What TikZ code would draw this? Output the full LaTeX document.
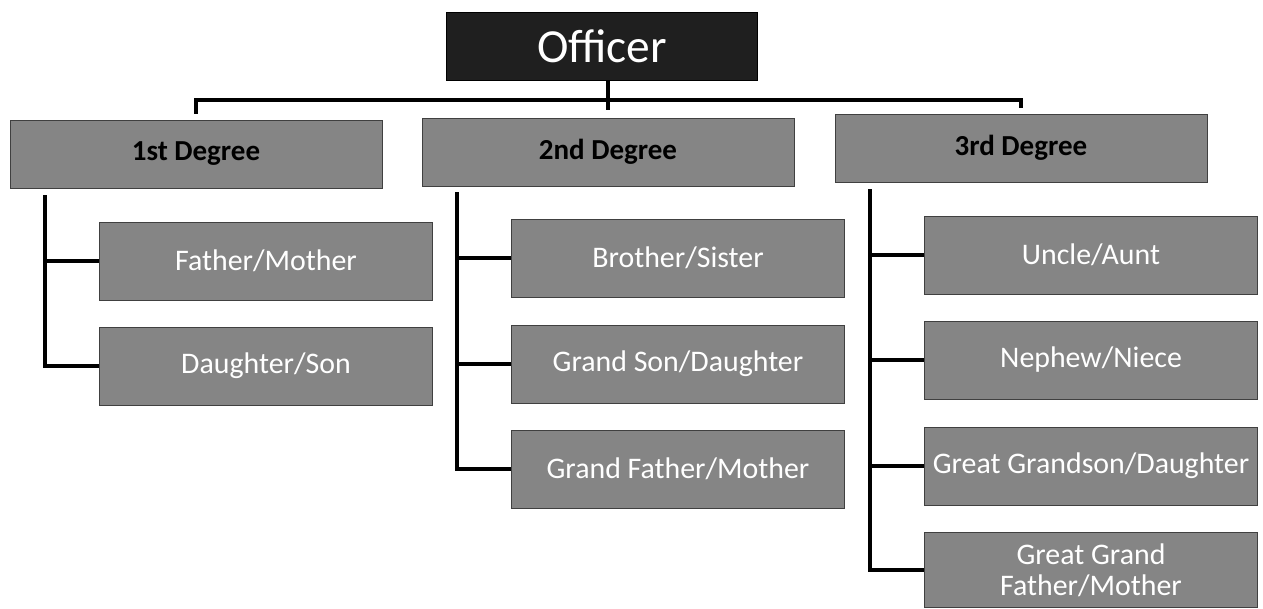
\documentclass[tikz,border=0pt]{standalone}
\usepackage{fontspec}
\setmainfont{Carlito}
\usepackage{tikz}
\usetikzlibrary{calc}

\begin{document}
\begin{tikzpicture}[x=0.02cm,y=-0.02cm]
\tikzset{topbox/.style={ %
		fill=black!88,
		draw=black,
		text=white,
		minimum width=6.22cm,
		minimum height=1.36cm,
		font=\fontsize{27}{30}\selectfont %
	},
	degbox/.style={ %
		fill=black!48,
		draw=black!75,
		text=black,
		minimum width=7.44cm,
		minimum height=1.36cm,
		font=\fontsize{16.5}{19}\selectfont\bfseries %
	},
	kinbox/.style={ %
		fill=black!48,
		draw=black!75,
		text=white,
		align=center,
		minimum width=6.66cm,
		minimum height=1.56cm,
		inner sep=1pt,
		font=\fontsize{17}{17.5}\selectfont %
	},
	link/.style={line width=2pt}
}
\useasboundingbox (0,0) rectangle (1263,608);

\node[topbox] (officer) at (602,46) {Officer};

\node[degbox] (deg1) at (196,154) {1st Degree};
\node[degbox] (deg2) at (608,152) {2nd Degree};
\node[degbox] (deg3) at (1021,148) {3rd Degree};

% first degree
\node[kinbox] (fm) at (266,261) {Father/Mother};
\node[kinbox] (ds) at (266,366) {Daughter/Son};

% second degree
\node[kinbox] (bs) at (678,258) {Brother/Sister};
\node[kinbox] (gsd) at (678,364) {Grand Son/Daughter};
\node[kinbox] (gfm) at (678,469) {Grand Father/Mother};

% third degree
\node[kinbox] (ua) at (1091,255) {Uncle/Aunt};
\node[kinbox] (nn) at (1091,360) {Nephew/Niece};
\node[kinbox] (ggsd) at (1091,466) {Great Grandson/Daughter};
\node[kinbox,minimum height=1.5cm] (ggfm) at (1091,570) {Great Grand\\Father/Mother};

% top bar
\coordinate (bar) at (607,100);
\draw[link] ([yshift=0.12cm]deg1.north) |- (bar) -| ([yshift=0.12cm]deg3.north);
\draw[link] (deg2.north |- officer.south) -- ([yshift=0.16cm]deg2.north);

\coordinate (t1) at (45,195);
\coordinate (t2) at (457,192);
\coordinate (t3) at (870,189);

\draw[link] (t1) |- (fm.west);
\draw[link] (t1) |- (ds.west);
\draw[link] (t2) |- (bs.west);
\draw[link] (t2) |- (gsd.west);
\draw[link] (t2) |- (gfm.west);
\draw[link] (t3) |- (ua.west);
\draw[link] (t3) |- (nn.west);
\draw[link] (t3) |- (ggsd.west);
\draw[link] (t3) |- (ggfm.west);

\end{tikzpicture}
\end{document}
